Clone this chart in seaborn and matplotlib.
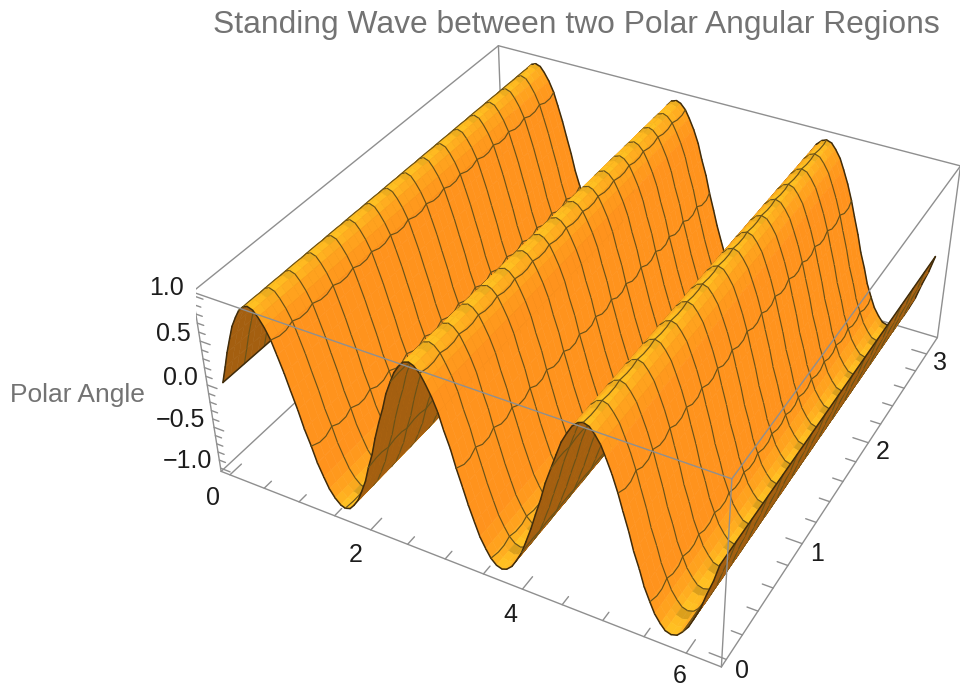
import numpy as np
import seaborn as sns
import matplotlib
matplotlib.use("Agg")
import matplotlib.pyplot as plt
from mpl_toolkits.mplot3d import proj3d

# surface profile
x_values = [0.00,0.07,0.13,0.20,0.26,0.33,0.39,0.46,0.52,0.59,0.65,0.72,0.79,0.85,0.92,0.98,
            1.05,1.11,1.18,1.24,1.31,1.37,1.44,1.51,1.57,1.64,1.70,1.77,1.83,1.90,1.96,2.03,
            2.09,2.16,2.23,2.29,2.36,2.42,2.49,2.55,2.62,2.68,2.75,2.81,2.88,2.95,3.01,3.08,
            3.14,3.21,3.27,3.34,3.40,3.47,3.53,3.60,3.67,3.73,3.80,3.86,3.93,3.99,4.06,4.12,
            4.19,4.25,4.32,4.39,4.45,4.52,4.58,4.65,4.71,4.78,4.84,4.91,4.97,5.04,5.11,5.17,
            5.24,5.30,5.37,5.43,5.50,5.56,5.63,5.69,5.76,5.83,5.89,5.96,6.02,6.09,6.15,6.22,6.28]
wave_height = [0,.20,.38,.56,.71,.83,.92,.98,1,.98,.92,.83,.71,.56,.38,.20,
               0,-.20,-.38,-.56,-.71,-.83,-.92,-.98,-1,-.98,-.92,-.83,-.71,-.56,-.38,-.20,
               0,.20,.38,.56,.71,.83,.92,.98,1,.98,.92,.83,.71,.56,.38,.20,
               0,-.20,-.38,-.56,-.71,-.83,-.92,-.98,-1,-.98,-.92,-.83,-.71,-.56,-.38,-.20,
               0,.20,.38,.56,.71,.83,.92,.98,1,.98,.92,.83,.71,.56,.38,.20,
               0,-.20,-.38,-.56,-.71,-.83,-.92,-.98,-1,-.98,-.92,-.83,-.71,-.56,-.38,-.20,0]
y_values = [0.00,0.07,0.13,0.20,0.26,0.33,0.39,0.46,0.52,0.59,0.65,0.72,0.79,0.85,0.92,0.98,
            1.05,1.11,1.18,1.24,1.31,1.37,1.44,1.51,1.57,1.64,1.70,1.77,1.83,1.90,1.96,2.03,
            2.09,2.16,2.23,2.29,2.36,2.42,2.49,2.55,2.62,2.68,2.75,2.81,2.88,2.95,3.01,3.08,3.14]

x_major = [0, 2, 4, 6]
x_minor = [0.5, 1, 1.5, 2.5, 3, 3.5, 4.5, 5, 5.5]
y_major = [0, 1, 2, 3]
y_minor = [0.2, 0.4, 0.6, 0.8, 1.2, 1.4, 1.6, 1.8, 2.2, 2.4, 2.6, 2.8]
z_major = [-1.0, -0.5, 0.0, 0.5, 1.0]
z_minor = [-0.9, -0.8, -0.7, -0.6, -0.4, -0.3, -0.2, -0.1, 0.1, 0.2, 0.3, 0.4, 0.6, 0.7, 0.8, 0.9]

# the box is a bit wider than the data
x_lo, x_hi = -0.13, 6.41
y_lo, y_hi = -0.06, 3.20
z_lo, z_hi = -1.04, 1.04

box_color = "#8f8f8f"
mesh_color = "#6a5218"
edge_color = "#3f2c0c"
under_color = "#a45f10"
text_gray = "#737373"
text_black = "#1c1c1c"
wobble = [0.0, 0.012, 0.012]  # the mesh lines bulge a little between crossings

sns.set_theme(style="white")
plt.rcParams["font.family"] = ["Liberation Sans", "DejaVu Sans"]

fig = plt.figure(figsize=(9.6, 6.86), dpi=100)
ax = fig.add_subplot(projection="3d", computed_zorder=False)
ax.set_position([196.2 / 960, -30.1 / 686, 777.9 / 960, 777.9 / 686])

ramp = sns.blend_palette(["#ffc022", "#ffb120", "#ffa01e", "#ff931d"], as_cmap=True)
bright = np.array(matplotlib.colors.to_rgb("#ffc824"))

x = np.array(x_values)
y = np.array(y_values)
z = np.array(wave_height)
slopes = np.diff(z) / np.mean(np.diff(x))
node_slopes = np.gradient(z, np.mean(np.diff(x)))

# strips are painted from far (x=0) to near (x=2pi), that gives the hidden parts
for i in range(len(x) - 1):
    X, Y = np.meshgrid(x[i:i + 2], y)
    Z = np.tile(z[i:i + 2], (len(y), 1))
    colors = np.zeros((len(y), 2, 4))
    if slopes[i] > 1.2:
        colors[:] = matplotlib.colors.to_rgba(under_color)
    else:
        t = float(min(abs(slopes[i]) / 2.2, 1.0))
        base = np.array(ramp(t))
        ripple_amount = max(0.0, 1 - t / 0.6)
        for j in range(len(y)):
            c = base.copy()
            if j % 3 == 0:
                c[:3] = c[:3] + (bright - c[:3]) * ripple_amount * 0.6
            elif j % 3 == 2:
                dark = 0.12 if z[i] > 0 else 0.24
                c[:3] = c[:3] * (1 - dark * ripple_amount ** 2)
            colors[j, :] = c
    ax.plot_surface(X, Y, Z, facecolors=colors, rstride=1, cstride=1, shade=False,
                    linewidth=0.4, zorder=10 + i)

    # constant y mesh lines crossing this strip
    for j in range(0, len(y), 3):
        border = j == 0 or j == len(y) - 1
        ax.plot(x[i:i + 2], [y[j], y[j]], z[i:i + 2], color=edge_color if border else mesh_color,
                lw=1.1 if border else 0.85, zorder=10 + i + 0.5, solid_capstyle="round")
    # constant x mesh lines
    if i % 6 == 0:
        if i == 0:
            ax.plot([x[i], x[i]], [y[0], y[-1]], [z[i], z[i]], color=edge_color, lw=1.1, zorder=11.6)
        else:
            shift = np.array([wobble[j % 3] for j in range(len(y))])
            ax.plot(x[i] + shift, y, z[i] + node_slopes[i] * shift, color=mesh_color, lw=0.85,
                    zorder=10 + i + 1.6)
ax.plot([x[-1], x[-1]], [y[0], y[-1]], [z[-1], z[-1]], color=edge_color, lw=1.1, zorder=200)


def box_line(a, b, front):
    ax.plot([a[0], b[0]], [a[1], b[1]], [a[2], b[2]], color=box_color, lw=1.0, zorder=300 if front else 1)


# back edges sit under the surface, front edges over it
box_line((x_lo, y_lo, z_lo), (x_lo, y_hi, z_lo), False)
box_line((x_lo, y_hi, z_lo), (x_hi, y_hi, z_lo), False)
box_line((x_lo, y_lo, z_hi), (x_lo, y_hi, z_hi), False)
box_line((x_lo, y_hi, z_hi), (x_hi, y_hi, z_hi), False)
box_line((x_lo, y_hi, z_lo), (x_lo, y_hi, z_hi), False)
box_line((x_lo, y_lo, z_lo), (x_hi, y_lo, z_lo), True)
box_line((x_hi, y_lo, z_lo), (x_hi, y_hi, z_lo), True)
box_line((x_lo, y_lo, z_lo), (x_lo, y_lo, z_hi), True)
box_line((x_hi, y_lo, z_lo), (x_hi, y_lo, z_hi), True)
box_line((x_hi, y_hi, z_lo), (x_hi, y_hi, z_hi), True)
box_line((x_lo, y_lo, z_hi), (x_hi, y_lo, z_hi), True)
box_line((x_hi, y_lo, z_hi), (x_hi, y_hi, z_hi), True)

for v in x_major + x_minor:
    size = 0.11 if v in x_major else 0.07
    box_line((v, y_lo, z_lo), (v, y_lo + size, z_lo), True)
for v in y_major + y_minor:
    size = 0.2 if v in y_major else 0.13
    box_line((x_hi, v, z_lo), (x_hi - size, v, z_lo), True)
for v in z_major + z_minor:
    size = 0.14 if v in z_major else 0.09
    box_line((x_lo, y_lo, v), (x_lo + size, y_lo, v), True)

ax.set_xlim(x_lo, x_hi, view_margin=0)
ax.set_ylim(y_lo, y_hi, view_margin=0)
ax.set_zlim(z_lo, z_hi, view_margin=0)
ax.view_init(elev=36.12, azim=-61.42, roll=0.12)
ax.set_proj_type("persp", focal_length=0.437)
ax.set_box_aspect((1, 1, 0.398))
ax.set_axis_off()


def tick_label(px, py, pz, text, ha="center"):
    tx, ty, _ = proj3d.proj_transform(px, py, pz, ax.get_proj())
    ax.text2D(tx, ty, text, transform=ax.transData, fontsize=18, color=text_black, ha=ha, va="center", zorder=400)


# the last x label sits a bit closer to its tick
for v, gap in zip(x_major, [0.21, 0.21, 0.20, 0.16]):
    tick_label(v + 0.08, y_lo - gap, z_lo, str(v))
for v in y_major:
    tick_label(x_hi + 0.19, v, z_lo - 0.06, str(v))
for v in z_major:
    tick_label(x_lo - 0.12, y_lo, v + 0.05, ("%.1f" % v).replace("-", "\u2212"), ha="right")

fig.text(576 / 960, 1 - 25 / 686, "Standing Wave between two Polar Angular Regions", fontsize=22.85,
         color=text_gray, ha="center", va="center")
fig.text(77 / 960, 1 - 395 / 686, "Polar Angle", fontsize=19, color=text_gray, ha="center", va="center")

fig.savefig("out.png", dpi=100)
